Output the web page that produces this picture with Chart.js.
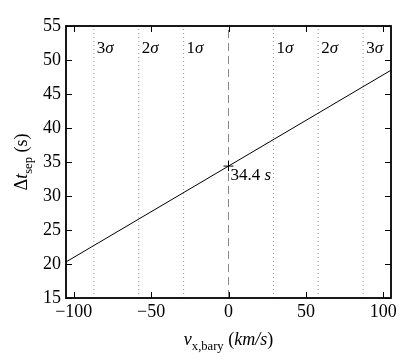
<!DOCTYPE html>
<html>
<head>
<meta charset="utf-8">
<script src="https://cdn.jsdelivr.net/npm/chart.js@4.4.1/dist/chart.umd.min.js"></script>
<style>
  html, body { margin: 0; padding: 0; background: #fff; }
  #wrap { width: 415px; height: 363px; position: relative; }
</style>
</head>
<body>
<div id="wrap"><canvas id="c"></canvas></div>
<script>
const SERIF = "'Liberation Serif', 'DejaVu Serif', serif";

// the fitted line
const VX = [-105, 0, 105];
const DT = [20.3, 34.4, 48.5];

// marked point
const MARK_X = [0];
const MARK_Y = [34.4];
const MARK_LABEL = "34.4";

// sigma bands (km/s)
const SIGMA_X = [-87, -58, -29, 29, 58, 87];
const SIGMA_LABELS = ["3σ", "2σ", "1σ", "1σ", "2σ", "3σ"];

const X_TICKS = [-100, -50, 0, 50, 100];
const Y_TICKS = [15, 20, 25, 30, 35, 40, 45, 50, 55];
const X_MIN = -105, X_MAX = 105, Y_MIN = 15, Y_MAX = 55;

const fmtTick = (v) => (v < 0 ? "\u2212" + Math.abs(v) : String(v));

// draw a run of text pieces, some italic, some subscript
function richText(ctx, parts, x, y, size, align) {
  const font = (p) => `${p.it ? "italic " : ""}${p.sub ? size * 0.7 : size}px ${SERIF}`;
  let total = 0;
  for (const p of parts) { ctx.font = font(p); total += ctx.measureText(p.t).width; }
  let cx = align === "center" ? x - total / 2 : x;
  ctx.textAlign = "left";
  ctx.textBaseline = "alphabetic";
  for (const p of parts) {
    ctx.font = font(p);
    ctx.fillText(p.t, cx, p.sub ? y + size * 0.25 : y);
    cx += ctx.measureText(p.t).width;
  }
}

const decor = {
  id: "decor",
  afterDatasetsDraw(chart) {
    const { ctx, chartArea: a, scales: { x, y } } = chart;
    ctx.save();
    ctx.fillStyle = "#000";
    ctx.strokeStyle = "#000";

    // inward ticks on all four sides
    ctx.lineWidth = 1;
    ctx.beginPath();
    for (const v of X_TICKS) {
      const px = Math.round(x.getPixelForValue(v)) + 0.5;
      ctx.moveTo(px, a.bottom); ctx.lineTo(px, a.bottom - 6);
      ctx.moveTo(px, a.top); ctx.lineTo(px, a.top + 6);
    }
    for (const v of Y_TICKS) {
      const py = Math.round(y.getPixelForValue(v)) + 0.5;
      ctx.moveTo(a.left, py); ctx.lineTo(a.left + 6, py);
      ctx.moveTo(a.right, py); ctx.lineTo(a.right - 6, py);
    }
    ctx.stroke();

    // frame
    ctx.lineWidth = 1.8;
    ctx.strokeRect(a.left, a.top, a.right - a.left, a.bottom - a.top);

    // sigma labels
    const ly = y.getPixelForValue(51);
    SIGMA_X.forEach((v, i) => {
      const px = x.getPixelForValue(v) + 3;
      richText(ctx, [{ t: SIGMA_LABELS[i][0] }, { t: "σ", it: true }], px, ly, 17, "left");
    });

    // marked value
    const mx = x.getPixelForValue(MARK_X[0]) + 2;
    const my = y.getPixelForValue(MARK_Y[0]) + 14;
    richText(ctx, [{ t: MARK_LABEL + " " }, { t: "s", it: true }], mx, my, 17, "left");

    // axis titles
    richText(ctx, [{ t: "v", it: true }, { t: "x,bary", sub: true }, { t: " (" }, { t: "km/s", it: true }, { t: ")" }],
      (a.left + a.right) / 2, 345, 18, "center");
    ctx.translate(27, (a.top + a.bottom) / 2);
    ctx.rotate(-Math.PI / 2);
    richText(ctx, [{ t: "Δ" }, { t: "t", it: true }, { t: "sep", sub: true }, { t: " (s)" }], 0, 0, 18, "center");
    ctx.restore();
  },
};

const vline = (v, dash, color) => ({
  data: [{ x: v, y: Y_MIN }, { x: v, y: Y_MAX }],
  borderColor: color,
  borderWidth: 1,
  borderDash: dash,
  pointRadius: 0,
  order: 3,
});

const datasets = [
  ...SIGMA_X.map((v) => vline(v, [1, 3], "#999")),
  vline(0, [8, 5], "#888"),
  {
    data: VX.map((v, i) => ({ x: v, y: DT[i] })),
    borderColor: "#000",
    borderWidth: 1,
    pointRadius: 0,
    order: 1,
  },
  {
    data: MARK_X.map((v, i) => ({ x: v, y: MARK_Y[i] })),
    showLine: false,
    pointStyle: "cross",
    pointRadius: 5,
    borderColor: "#000",
    borderWidth: 1,
    order: 0,
  },
];

new Chart(document.getElementById("c"), {
  type: "line",
  data: { datasets },
  options: {
    responsive: true,
    maintainAspectRatio: false,
    animation: false,
    layout: { padding: { top: 26, right: 24, left: 0, bottom: 0 } },
    plugins: { legend: { display: false }, tooltip: { enabled: false } },
    scales: {
      x: {
        type: "linear",
        min: X_MIN, max: X_MAX,
        afterBuildTicks: (s) => { s.ticks = X_TICKS.map((v) => ({ value: v })); },
        afterFit: (s) => { s.height = 65; },
        grid: { display: false, drawTicks: false },
        border: { display: false },
        ticks: { color: "#000", font: { family: SERIF, size: 18 }, padding: 3, callback: fmtTick, maxRotation: 0 },
      },
      y: {
        type: "linear",
        min: Y_MIN, max: Y_MAX,
        afterBuildTicks: (s) => { s.ticks = Y_TICKS.map((v) => ({ value: v })); },
        afterFit: (s) => { s.width = 66; },
        grid: { display: false, drawTicks: false },
        border: { display: false },
        ticks: { color: "#000", font: { family: SERIF, size: 18 }, padding: 5, callback: fmtTick },
      },
    },
  },
  plugins: [decor],
});
</script>
</body>
</html>
